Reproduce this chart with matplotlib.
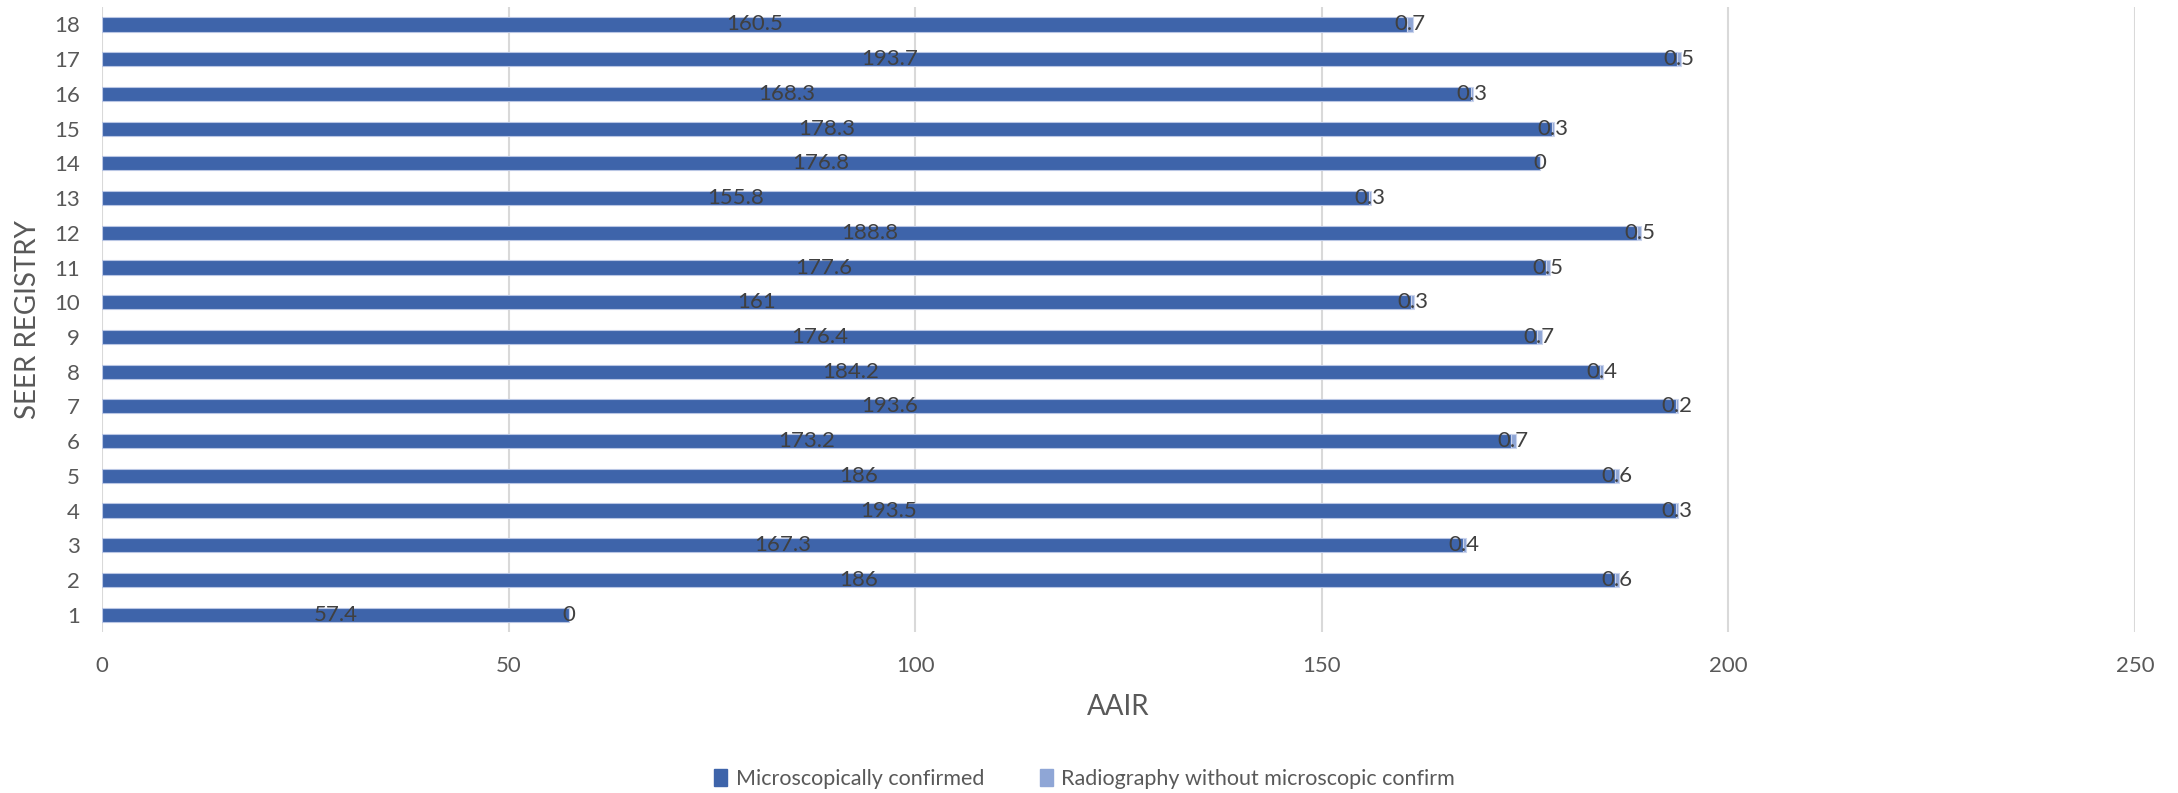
import matplotlib.pyplot as plt
from matplotlib.patches import Patch

plt.rcParams['font.family'] = ['Lato', 'DejaVu Sans']

# SEER registries, bottom to top
registries = [str(i) for i in range(1, 19)]
microscopic = [57.4, 186, 167.3, 193.5, 186, 173.2, 193.6, 184.2, 176.4,
               161, 177.6, 188.8, 155.8, 176.8, 178.3, 168.3, 193.7, 160.5]
radiography = [0, 0.6, 0.4, 0.3, 0.6, 0.7, 0.2, 0.4, 0.7,
               0.3, 0.5, 0.5, 0.3, 0, 0.3, 0.3, 0.5, 0.7]
x_ticks = [0, 50, 100, 150, 200, 250]

DARK = '#3E64AA'
LIGHT = '#8FA6D6'
TEXT = '#404040'
TICK = '#595959'

fig = plt.figure(figsize=(21.78, 7.93), dpi=100)
ax = fig.add_axes([0.0468, 0.203, 0.9335, 0.788])

pos = range(len(registries))
bars1 = ax.barh(pos, microscopic, height=0.41, color=DARK,
                edgecolor='#B9C6E4', linewidth=0.8, zorder=3)
bars2 = ax.barh(pos, radiography, left=microscopic, height=0.41, color=LIGHT,
                edgecolor='#C9D3EC', linewidth=0.8, zorder=3)

# value labels centred in each segment
for y, a, b in zip(pos, microscopic, radiography):
    ax.text(a / 2, y, f'{a:g}', ha='center', va='center',
            fontsize=16, color=TEXT, zorder=4)
    ax.text(a + b / 2, y, f'{b:g}', ha='center', va='center',
            fontsize=16, color=TEXT, zorder=4)

ax.set_xlim(0, 250)
ax.set_ylim(-0.5, len(registries) - 0.5)
ax.set_xticks(x_ticks)
ax.set_yticks(list(pos))
ax.set_yticklabels(registries)
ax.grid(axis='x', color='#D9D9D9', linewidth=1.5, zorder=0)
ax.set_axisbelow(True)
for s in ax.spines.values():
    s.set_visible(False)
ax.tick_params(axis='both', length=0, labelsize=16, labelcolor=TICK)
ax.tick_params(axis='x', pad=17)
ax.tick_params(axis='y', pad=16)

ax.set_xlabel('AAIR', fontsize=20, color=TICK, labelpad=13)
fig.text(0.013, 0.597, 'SEER REGISTRY', rotation=90, ha='center',
         va='center', fontsize=20, color=TICK)

handles = [Patch(color=DARK, label='Microscopically confirmed'),
           Patch(color=LIGHT, label='Radiography without microscopic confirm')]
fig.legend(handles=handles, loc='center', bbox_to_anchor=(0.498, 0.018),
           ncol=2, frameon=False, fontsize=15.5, handlelength=0.6,
           handleheight=0.9, handletextpad=0.4, columnspacing=2.6,
           labelcolor=TICK)

fig.savefig('out.png', dpi=100)
